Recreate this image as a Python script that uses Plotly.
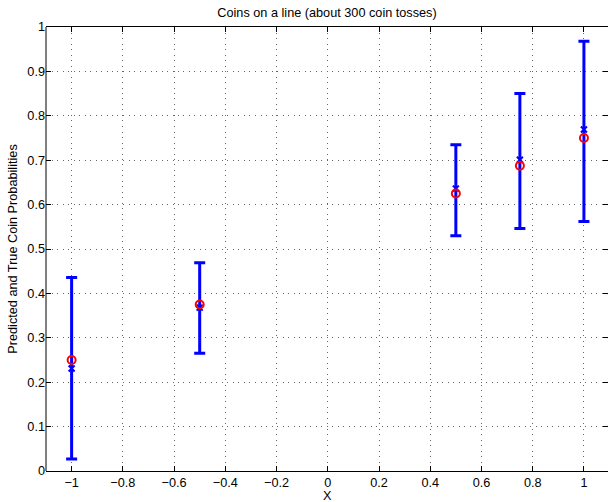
import plotly.graph_objects as go

# Data
x_vals = [-1, -0.5, 0.5, 0.75, 1]
pred_mean = [0.231, 0.368, 0.636, 0.701, 0.769]
pred_lower = [0.027, 0.265, 0.530, 0.546, 0.562]
pred_upper = [0.436, 0.469, 0.735, 0.850, 0.968]
true_prob = [0.25, 0.375, 0.625, 0.6875, 0.75]

x_ticks = [-1, -0.8, -0.6, -0.4, -0.2, 0, 0.2, 0.4, 0.6, 0.8, 1]
y_ticks = [0, 0.1, 0.2, 0.3, 0.4, 0.5, 0.6, 0.7, 0.8, 0.9, 1]

err_plus = [u - m for u, m in zip(pred_upper, pred_mean)]
err_minus = [m - l for m, l in zip(pred_mean, pred_lower)]

FONT = "Liberation Sans, Arial, Helvetica, sans-serif"
FS = 12.7

fig = go.Figure()
fig.add_trace(go.Scatter(
    x=x_vals, y=pred_mean, mode="markers",
    marker=dict(symbol="x-thin-open", size=6, color="#0000ff",
                line=dict(color="#0000ff", width=2)),
    error_y=dict(type="data", symmetric=False, array=err_plus,
                 arrayminus=err_minus, color="#0000ff", thickness=3, width=5.5),
    showlegend=False, hoverinfo="skip",
))
fig.add_trace(go.Scatter(
    x=x_vals, y=true_prob, mode="markers",
    marker=dict(symbol="circle-open", size=8, color="#ff0000",
                line=dict(color="#ff0000", width=2)),
    showlegend=False, hoverinfo="skip",
))

grid_dash = "1px,4.5px"
fig.update_layout(
    width=608, height=502,
    margin=dict(l=46, r=0, t=27, b=31),
    paper_bgcolor="white", plot_bgcolor="white",
    font=dict(family=FONT, size=FS, color="black"),
    title=dict(text="Coins on a line (about 300 coin tosses)",
               x=0.5, xref="paper", xanchor="center",
               y=1 - 13 / 502, yref="container", yanchor="middle",
               font=dict(family=FONT, size=FS, color="black")),
    xaxis=dict(range=[-1.1, 1.094], tickvals=x_ticks, automargin=False,
               ticks="inside", ticklen=5, tickcolor="black", tickwidth=1,
               showline=True, linecolor="black", linewidth=1, mirror="ticks",
               showgrid=True, gridcolor="#666666", gridwidth=1, griddash=grid_dash,
               zeroline=False,
               tickfont=dict(family=FONT, size=FS)),
    yaxis=dict(range=[0, 1], tickvals=y_ticks, automargin=False,
               ticks="inside", ticklen=5, tickcolor="black", tickwidth=1,
               showline=False, mirror="ticks",
               showgrid=True, gridcolor="#666666", gridwidth=1, griddash=grid_dash,
               zeroline=False,
               title=dict(text="Predicted and True Coin Probabilities", standoff=6,
                          font=dict(family=FONT, size=FS)),
               tickfont=dict(family=FONT, size=FS)),
    shapes=[dict(type="line", xref="paper", yref="paper", x0=0, x1=0, y0=0, y1=1,
                 line=dict(color="black", width=1), layer="above")],
    annotations=[dict(text="X", xref="paper", yref="paper", x=0.5, y=0,
                      xanchor="center", yanchor="top", yshift=-16,
                      showarrow=False, font=dict(family=FONT, size=FS, color="black"))],
)

fig.write_html("out.html", config={"displayModeBar": False},
               post_script="document.body.style.margin='0';")
